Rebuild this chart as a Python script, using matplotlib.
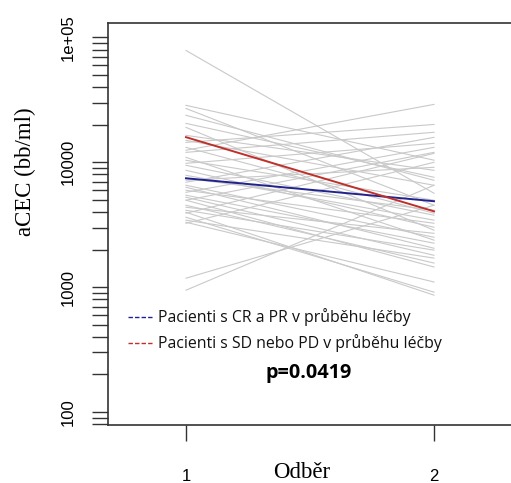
import matplotlib
matplotlib.use("Agg")
import matplotlib.pyplot as plt
from matplotlib.lines import Line2D
from matplotlib.ticker import LogLocator, FixedFormatter, FixedLocator, NullFormatter

# aCEC per patient at sample 1 and sample 2 (bb/ml)
odber_1 = [78700, 28600, 27000, 12500, 20500, 19050, 14450, 13180, 12020, 10960,
           9820, 8630, 6920, 6310, 5750, 5250, 4970, 4365, 3910, 3440,
           3250, 3630, 3310, 1180, 946, 15000, 10380, 7870, 6550, 5450,
           4530, 4130, 7180, 9460, 16440, 23800, 7450, 5970, 4970, 3980]
odber_2 = [5650, 10400, 4530, 29100, 7590, 2860, 20100, 3910, 17400, 2380,
           14190, 3020, 15850, 2050, 13180, 1800, 12020, 2700, 11800, 1710,
           10000, 912, 1100, 4530, 6550, 6550, 4970, 3440, 2510, 2250,
           1560, 1980, 9120, 3770, 8630, 7180, 4130, 3250, 1450, 863]

# group means
mean_cr_pr = [7450, 4880]
mean_sd_pd = [15900, 4050]

timepoints = [1, 2]
y_ticks = [100, 1000, 10000, 100000]
y_tick_labels = ["100", "1000", "10000", "1e+05"]
legend_labels = ["Pacienti s CR a PR v průběhu léčby",
                 "Pacienti s SD nebo PD v průběhu léčby"]
p_text = "p=0.0419"

W, H = 511, 483
fig = plt.figure(figsize=(W / 100, H / 100), dpi=100)
ax = fig.add_axes([108 / W, 1 - 425 / H, 1 - 108 / W, (425 - 23) / H])

for a, b in zip(odber_1, odber_2):
    ax.plot(timepoints, [a, b], color="#c9c9c9", lw=0.8)
ax.plot(timepoints, mean_cr_pr, color="#22228f", lw=1.4)
ax.plot(timepoints, mean_sd_pd, color="#c0302a", lw=1.4)

ax.set_yscale("log")
ax.set_xlim(0.6855, 2.3105)
ax.set_ylim(78.7, 130600)

ax.yaxis.set_major_locator(FixedLocator(y_ticks))
ax.yaxis.set_major_formatter(FixedFormatter(y_tick_labels))
ax.yaxis.set_minor_locator(LogLocator(base=10, subs=range(2, 10), numticks=20))
ax.yaxis.set_minor_formatter(NullFormatter())
ax.tick_params(axis="y", which="both", length=11.5, width=1.0, color="#333333",
               labelsize=12, pad=12)
for lab in ax.get_yticklabels():
    lab.set_rotation(90)
    lab.set_va("center")
    lab.set_family("Liberation Sans")

ax.set_xticks(timepoints)
ax.set_xticklabels([str(t) for t in timepoints], family="Liberation Sans", fontsize=12)
ax.tick_params(axis="x", length=11.5, width=1.0, color="#333333", pad=20)

for s in ["left", "top", "bottom"]:
    ax.spines[s].set_color("#333333")
    ax.spines[s].set_linewidth(1.2)
ax.spines["right"].set_visible(False)

fig.text(25 / W, 1 - 172 / H, "aCEC (bb/ml)", rotation=90, ha="center", va="center",
         family="Liberation Serif", fontsize=16.5)
fig.text(302 / W, 1 - 472 / H, "Odběr", ha="center", va="center",
         family="Liberation Serif", fontsize=16.5)

# legend drawn by hand, like the original
for i, (lab, col) in enumerate(zip(legend_labels, ["#22228f", "#c0302a"])):
    yy = 1 - (317 + 26 * i) / H
    fig.add_artist(Line2D([128 / W, 153 / W], [yy, yy], color=col, lw=1.0,
                          dashes=(3.2, 1.5), transform=fig.transFigure))
    fig.text(158 / W, yy, lab, color="#111111", ha="left", va="center",
             family="Open Sans", fontsize=11.4)
fig.text(309 / W, 1 - 373 / H, p_text, ha="center", va="center",
         family="Open Sans", fontweight="bold", fontsize=14.3)

fig.savefig("out.png", dpi=100, facecolor="white")
